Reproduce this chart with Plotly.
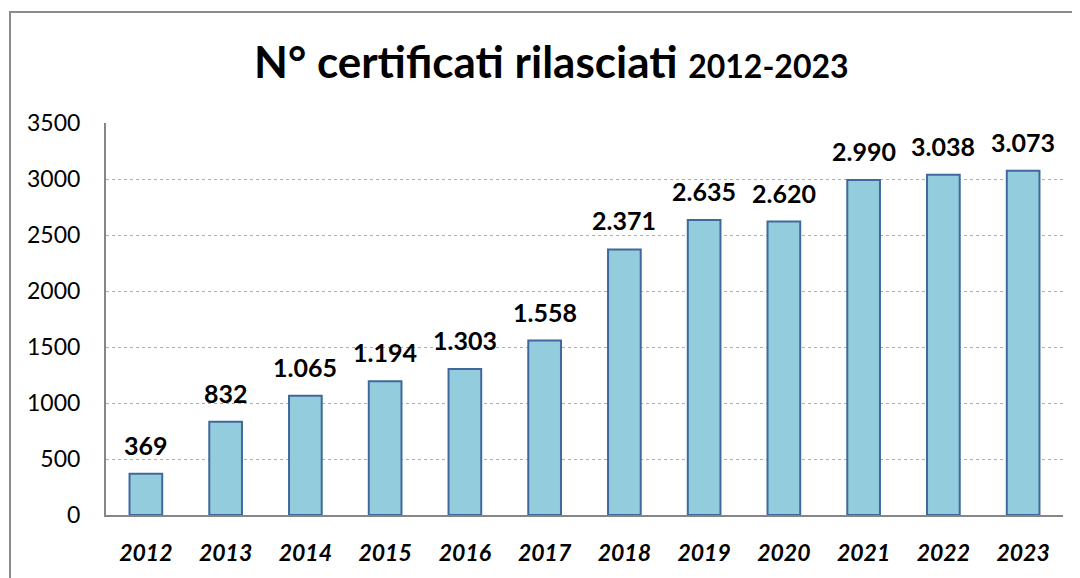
import plotly.graph_objects as go

# dati
anni = ["2012", "2013", "2014", "2015", "2016", "2017",
        "2018", "2019", "2020", "2021", "2022", "2023"]
certificati = [369, 832, 1065, 1194, 1303, 1558,
               2371, 2635, 2620, 2990, 3038, 3073]
tick_vals = [0, 500, 1000, 1500, 2000, 2500, 3000, 3500]

FONT = "Lato"

fig = go.Figure()
fig.add_trace(go.Bar(
    x=anni,
    y=certificati,
    marker=dict(color="#93CDDD", line=dict(color="#41689C", width=2)),
    hoverinfo="x+y",
    showlegend=False,
))

# etichette sopra le barre (separatore migliaia con punto)
for i, v in enumerate(certificati):
    fig.add_annotation(
        x=i, y=v, text=f"{v:,}".replace(",", "."),
        showarrow=False, yanchor="bottom", yshift=12,
        font=dict(family=FONT, size=25, color="black", weight="bold"),
    )

# titolo
fig.add_annotation(
    xref="paper", yref="paper", x=0.465, y=1.158, xanchor="center", yanchor="middle",
    text="N° certificati rilasciati <span style='font-size:32px'>2012-2023</span>",
    showarrow=False, font=dict(family=FONT, size=44, color="black", weight="bold"),
)

# cornice esterna (lato destro e inferiore fuori dall'immagine)
fig.add_shape(
    type="rect", xref="paper", yref="paper",
    x0=-0.1003, x1=1.06, y0=-0.2, y1=1.283,
    line=dict(color="#8C8C8C", width=2), fillcolor="rgba(0,0,0,0)", layer="below",
)

# la pagina ha 8px di margine sul body
fig.update_layout(
    width=1072, height=570,
    margin=dict(l=98, r=17, t=115, b=59),
    paper_bgcolor="white", plot_bgcolor="white",
    bargap=0.59,
    font=dict(family=FONT, color="black"),
)
fig.update_xaxes(
    type="category", range=[-0.5, len(anni) - 0.5],
    showline=True, linecolor="#868686", linewidth=2,
    showgrid=False, ticks="", ticklabelstandoff=16,
    tickfont=dict(family=FONT, size=23, color="black", weight="bold", style="italic"),
)
fig.update_yaxes(
    range=[0, 3500], tickvals=tick_vals,
    showline=True, linecolor="#868686", linewidth=2,
    showgrid=True, gridcolor="#8DB3E2", griddash="dot", gridwidth=1,
    zeroline=False, ticks="", ticklabelstandoff=19,
    tickfont=dict(family=FONT, size=23, color="black"),
)

fig.write_html("out.html")
